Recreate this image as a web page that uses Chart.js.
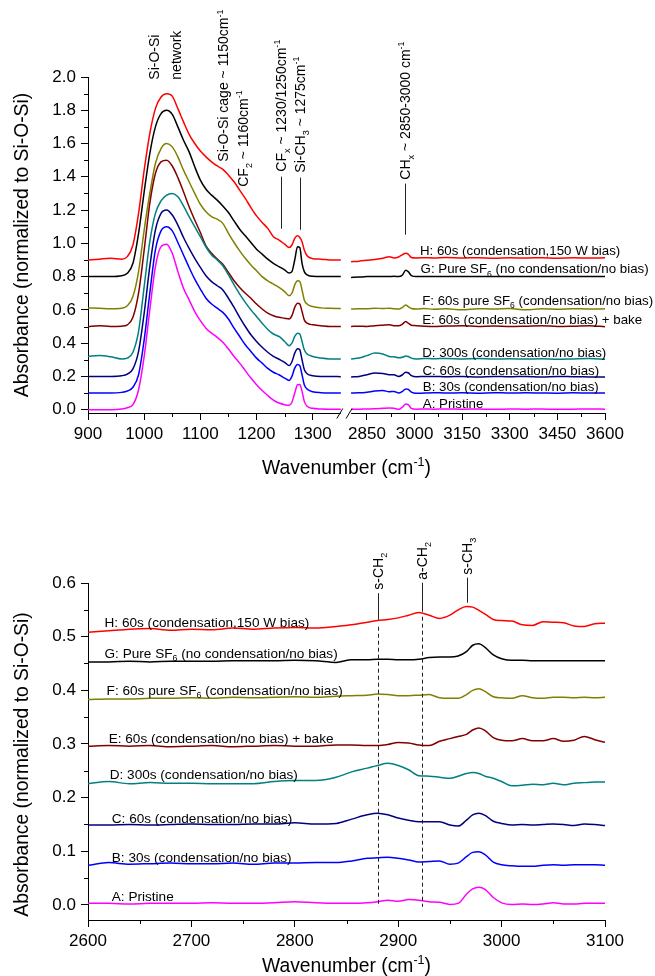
<!DOCTYPE html>
<html>
<head>
<meta charset="utf-8">
<script src="https://cdn.jsdelivr.net/npm/chart.js@4.4.1/dist/chart.umd.min.js"></script>
<style>
  html, body { margin: 0; padding: 0; background: #fff; }
  #wrap { position: relative; width: 655px; height: 976px; }
  canvas { position: absolute; left: 0; }
  #topChart { top: 0; }
  #botChart { top: 490px; }
</style>
</head>
<body>
<div id="wrap">
  <canvas id="topChart" width="655" height="490"></canvas>
  <canvas id="botChart" width="655" height="486"></canvas>
</div>
<script>
/* ── Data: top panel (broken axis 900-1350 | 2800-3600) ───────────── */
const topLeftWn  = [900, 920, 940, 960, 970, 980, 990, 1000, 1010, 1020, 1030, 1040, 1050, 1060, 1070, 1080, 1090, 1100, 1110, 1120, 1130, 1140, 1150, 1160, 1170, 1180, 1190, 1200, 1210, 1220, 1230, 1240, 1250, 1258, 1263, 1268, 1273, 1277, 1281, 1285, 1290, 1300, 1315, 1330, 1350];
const topRightWn = [2800, 2825, 2850, 2875, 2900, 2920, 2935, 2950, 2962, 2972, 2980, 2990, 3005, 3030, 3060, 3100, 3150, 3200, 3250, 3300, 3350, 3400, 3450, 3500, 3550, 3600];

const leftA = [0.0, 0.0, 0.0, 0.004, 0.012, 0.03, 0.12, 0.32, 0.6, 0.86, 0.98, 0.995, 0.94, 0.83, 0.73, 0.66, 0.59, 0.535, 0.49, 0.46, 0.435, 0.405, 0.365, 0.32, 0.28, 0.235, 0.19, 0.15, 0.115, 0.085, 0.058, 0.04, 0.03, 0.026, 0.045, 0.1, 0.15, 0.152, 0.11, 0.05, 0.02, 0.008, 0.004, 0.003, 0.003];
const leftB = [0.1, 0.1, 0.1, 0.104, 0.112, 0.135, 0.21, 0.42, 0.7, 0.96, 1.075, 1.1, 1.075, 1.005, 0.93, 0.855, 0.785, 0.725, 0.67, 0.635, 0.61, 0.585, 0.545, 0.49, 0.44, 0.39, 0.35, 0.31, 0.28, 0.248, 0.225, 0.21, 0.19, 0.176, 0.2, 0.25, 0.272, 0.265, 0.21, 0.15, 0.124, 0.108, 0.102, 0.1, 0.1];
const leftC = [0.2, 0.2, 0.2, 0.204, 0.214, 0.245, 0.35, 0.58, 0.86, 1.08, 1.18, 1.2, 1.17, 1.11, 1.035, 0.97, 0.91, 0.855, 0.805, 0.77, 0.745, 0.72, 0.67, 0.615, 0.555, 0.5, 0.45, 0.41, 0.375, 0.345, 0.32, 0.303, 0.285, 0.265, 0.288, 0.34, 0.366, 0.36, 0.3, 0.242, 0.216, 0.204, 0.2, 0.2, 0.198];
const leftD = [0.32, 0.325, 0.318, 0.305, 0.31, 0.345, 0.47, 0.74, 1.01, 1.18, 1.255, 1.29, 1.3, 1.28, 1.225, 1.16, 1.1, 1.04, 0.978, 0.93, 0.9, 0.865, 0.81, 0.75, 0.695, 0.645, 0.6, 0.56, 0.52, 0.482, 0.455, 0.44, 0.41, 0.385, 0.4, 0.44, 0.46, 0.455, 0.41, 0.36, 0.335, 0.32, 0.31, 0.305, 0.305];
const leftE = [0.5, 0.505, 0.5, 0.502, 0.51, 0.555, 0.7, 0.96, 1.24, 1.42, 1.49, 1.5, 1.465, 1.395, 1.31, 1.22, 1.14, 1.065, 0.985, 0.94, 0.905, 0.875, 0.825, 0.775, 0.735, 0.7, 0.67, 0.635, 0.605, 0.58, 0.565, 0.555, 0.55, 0.545, 0.565, 0.615, 0.64, 0.635, 0.59, 0.54, 0.52, 0.51, 0.505, 0.5, 0.5];
const leftF = [0.612, 0.61, 0.607, 0.61, 0.625, 0.68, 0.83, 1.08, 1.3, 1.48, 1.57, 1.6, 1.58, 1.52, 1.44, 1.37, 1.3, 1.235, 1.19, 1.16, 1.145, 1.12, 1.06, 1.005, 0.955, 0.91, 0.87, 0.835, 0.8, 0.775, 0.755, 0.735, 0.71, 0.685, 0.7, 0.75, 0.775, 0.77, 0.72, 0.66, 0.635, 0.62, 0.612, 0.61, 0.608];
const leftG = [0.8, 0.8, 0.8, 0.805, 0.82, 0.88, 1.06, 1.31, 1.54, 1.7, 1.78, 1.8, 1.775, 1.7, 1.62, 1.55, 1.46, 1.38, 1.325, 1.29, 1.26, 1.225, 1.185, 1.135, 1.085, 1.045, 1.005, 0.965, 0.935, 0.905, 0.88, 0.86, 0.84, 0.822, 0.83, 0.9, 0.98, 0.975, 0.88, 0.83, 0.81, 0.802, 0.8, 0.8, 0.8];
const leftH = [0.9, 0.905, 0.91, 0.905, 0.92, 0.99, 1.18, 1.44, 1.66, 1.81, 1.88, 1.9, 1.885, 1.81, 1.73, 1.655, 1.6, 1.555, 1.52, 1.49, 1.465, 1.445, 1.41, 1.37, 1.32, 1.27, 1.215, 1.165, 1.125, 1.09, 1.04, 1.02, 0.995, 0.975, 0.99, 1.03, 1.045, 1.035, 1.01, 0.96, 0.925, 0.908, 0.905, 0.9, 0.9];

const rightA = [0.003, 0.003, 0.004, 0.005, 0.008, 0.01, 0.008, 0.002, 0.016, 0.034, 0.03, 0.008, 0.003, 0.004, 0.003, 0.004, 0.003, 0.004, 0.002, 0.004, 0.003, 0.004, 0.002, 0.003, 0.004, 0.003];
const rightB = [0.1, 0.101, 0.105, 0.112, 0.115, 0.108, 0.11, 0.1, 0.11, 0.125, 0.122, 0.105, 0.098, 0.1, 0.102, 0.1, 0.101, 0.099, 0.102, 0.1, 0.101, 0.1, 0.099, 0.101, 0.1, 0.1];
const rightC = [0.197, 0.2, 0.21, 0.22, 0.218, 0.21, 0.21, 0.2, 0.21, 0.225, 0.222, 0.205, 0.198, 0.2, 0.2, 0.198, 0.2, 0.197, 0.2, 0.198, 0.2, 0.197, 0.2, 0.198, 0.197, 0.196];
const rightD = [0.305, 0.31, 0.325, 0.34, 0.335, 0.32, 0.318, 0.312, 0.315, 0.322, 0.32, 0.31, 0.305, 0.308, 0.306, 0.308, 0.305, 0.307, 0.304, 0.306, 0.304, 0.306, 0.303, 0.305, 0.307, 0.303];
const rightE = [0.5, 0.502, 0.5, 0.505, 0.508, 0.51, 0.505, 0.505, 0.515, 0.53, 0.52, 0.508, 0.505, 0.502, 0.5, 0.503, 0.505, 0.5, 0.503, 0.5, 0.502, 0.505, 0.5, 0.502, 0.505, 0.498];
const rightF = [0.605, 0.607, 0.606, 0.61, 0.608, 0.61, 0.607, 0.605, 0.615, 0.63, 0.62, 0.608, 0.605, 0.608, 0.604, 0.606, 0.6, 0.607, 0.605, 0.608, 0.6, 0.606, 0.604, 0.607, 0.605, 0.606];
const rightG = [0.795, 0.797, 0.8, 0.8, 0.8, 0.8, 0.802, 0.8, 0.81, 0.838, 0.83, 0.806, 0.8, 0.8, 0.8, 0.8, 0.8, 0.8, 0.8, 0.8, 0.8, 0.8, 0.8, 0.8, 0.8, 0.8];
const rightH = [0.89, 0.893, 0.898, 0.903, 0.91, 0.92, 0.912, 0.918, 0.932, 0.94, 0.935, 0.915, 0.912, 0.914, 0.912, 0.915, 0.912, 0.914, 0.91, 0.913, 0.912, 0.914, 0.911, 0.913, 0.912, 0.913];

const topTickWn  = [900, 1000, 1100, 1200, 1300, 2850, 3000, 3150, 3300, 3450, 3600];
const topMinorWn = [950, 1050, 1150, 1250, 2925, 3075, 3225, 3375, 3525];
const topYTicks  = [0, 0.2, 0.4, 0.6, 0.8, 1.0, 1.2, 1.4, 1.6, 1.8, 2.0];
const topMinorY  = [0.1, 0.3, 0.5, 0.7, 0.9, 1.1, 1.3, 1.5, 1.7, 1.9];

/* ── Data: bottom panel (2600-3100) ───────────────────────────────── */
const botWn = [2600, 2620, 2640, 2660, 2680, 2700, 2720, 2740, 2760, 2780, 2800, 2820, 2840, 2855, 2870, 2880, 2890, 2900, 2910, 2920, 2930, 2940, 2950, 2958, 2966, 2972, 2978, 2984, 2992, 3000, 3010, 3020, 3030, 3040, 3050, 3060, 3070, 3080, 3090, 3100];
const botA = [0.003, 0.003, 0.002, 0.003, 0.003, 0.003, 0.004, 0.003, 0.003, 0.004, 0.006, 0.004, 0.003, 0.003, 0.004, 0.006, 0.009, 0.007, 0.01, 0.009, 0.006, 0.005, 0.001, 0.003, 0.02, 0.03, 0.033, 0.029, 0.014, 0.004, 0.001, 0.002, 0.001, 0.002, 0.004, 0.002, 0.002, 0.003, 0.003, 0.003];
const botB = [0.074, 0.079, 0.076, 0.077, 0.078, 0.077, 0.077, 0.078, 0.076, 0.078, 0.078, 0.079, 0.079, 0.082, 0.087, 0.088, 0.089, 0.087, 0.084, 0.08, 0.081, 0.082, 0.076, 0.078, 0.09, 0.098, 0.099, 0.094, 0.08, 0.075, 0.073, 0.072, 0.072, 0.074, 0.075, 0.074, 0.075, 0.075, 0.075, 0.074];
const botC = [0.149, 0.149, 0.15, 0.149, 0.15, 0.151, 0.15, 0.15, 0.151, 0.151, 0.153, 0.151, 0.152, 0.16, 0.168, 0.171, 0.168, 0.162, 0.158, 0.155, 0.155, 0.155, 0.149, 0.147, 0.158, 0.168, 0.171, 0.167, 0.156, 0.152, 0.149, 0.15, 0.149, 0.15, 0.151, 0.15, 0.148, 0.151, 0.15, 0.148];
const botD = [0.226, 0.23, 0.226, 0.228, 0.227, 0.227, 0.226, 0.226, 0.226, 0.23, 0.232, 0.232, 0.238, 0.248, 0.255, 0.26, 0.264, 0.26, 0.252, 0.241, 0.24, 0.238, 0.236, 0.24, 0.245, 0.247, 0.245, 0.24, 0.236, 0.23, 0.222, 0.223, 0.225, 0.224, 0.227, 0.224, 0.227, 0.228, 0.229, 0.229];
const botE = [0.296, 0.297, 0.296, 0.297, 0.295, 0.296, 0.297, 0.295, 0.296, 0.297, 0.296, 0.296, 0.298, 0.298, 0.297, 0.297, 0.299, 0.303, 0.302, 0.298, 0.297, 0.305, 0.31, 0.314, 0.318, 0.326, 0.33, 0.325, 0.312, 0.307, 0.306, 0.31, 0.306, 0.306, 0.31, 0.305, 0.307, 0.314, 0.308, 0.303];
const botF = [0.383, 0.384, 0.384, 0.385, 0.385, 0.386, 0.385, 0.387, 0.386, 0.387, 0.388, 0.387, 0.389, 0.39, 0.391, 0.393, 0.392, 0.39, 0.39, 0.391, 0.392, 0.386, 0.385, 0.385, 0.392, 0.4, 0.403, 0.398, 0.388, 0.386, 0.385, 0.39, 0.386, 0.385, 0.387, 0.387, 0.386, 0.387, 0.386, 0.387];
const botG = [0.453, 0.453, 0.454, 0.453, 0.454, 0.454, 0.454, 0.455, 0.455, 0.455, 0.456, 0.455, 0.452, 0.457, 0.457, 0.458, 0.458, 0.457, 0.457, 0.458, 0.461, 0.462, 0.462, 0.464, 0.472, 0.484, 0.487, 0.48, 0.466, 0.459, 0.456, 0.456, 0.455, 0.455, 0.455, 0.455, 0.455, 0.455, 0.455, 0.455];
const botH = [0.508, 0.511, 0.514, 0.515, 0.512, 0.514, 0.513, 0.516, 0.514, 0.516, 0.517, 0.516, 0.519, 0.522, 0.527, 0.53, 0.532, 0.535, 0.54, 0.545, 0.54, 0.534, 0.54, 0.55, 0.556, 0.555, 0.549, 0.542, 0.532, 0.53, 0.529, 0.522, 0.521, 0.528, 0.527, 0.526, 0.52, 0.519, 0.524, 0.525];

const botXTicks = [2600, 2700, 2800, 2900, 3000, 3100];
const botMinorX = [2650, 2750, 2850, 2950, 3050];
const botYTicks = [0, 0.1, 0.2, 0.3, 0.4, 0.5, 0.6];
const botMinorY = [0.05, 0.15, 0.25, 0.35, 0.45, 0.55];

const seriesColors = ['#ff00ff', '#0000ff', '#000080', '#008080', '#800000', '#808000', '#000000', '#ff0000'];
const seriesLabels = [
  'A: Pristine',
  'B: 30s (condensation/no bias)',
  'C: 60s (condensation/no bias)',
  'D: 300s (condensation/no bias)',
  'E: 60s (condensation/no bias) + bake',
  'F: 60s pure SF_{6} (condensation/no bias)',
  'G: Pure SF_{6} (no condensation/no bias)',
  'H: 60s (condensation,150 W bias)'
];

/* ── Text helpers (sub/superscripts) ──────────────────────────────── */
const FONT = '"Liberation Sans", Arial, Helvetica, sans-serif';
Chart.defaults.font.family = FONT;
Chart.defaults.color = '#000';

function richParts(str) {
  const parts = [], re = /([_^])\{([^}]*)\}/g;
  let last = 0, m;
  while ((m = re.exec(str))) {
    if (m.index > last) parts.push({ t: str.slice(last, m.index), k: '' });
    parts.push({ t: m[2], k: m[1] });
    last = re.lastIndex;
  }
  if (last < str.length) parts.push({ t: str.slice(last), k: '' });
  return parts;
}
function drawRich(ctx, str, x, y, size, align) {
  const parts = richParts(str);
  const fontFor = k => (k ? size * 0.65 : size) + 'px ' + FONT;
  let w = 0;
  parts.forEach(p => { ctx.font = fontFor(p.k); p.w = ctx.measureText(p.t).width; w += p.w; });
  let cx = align === 'center' ? x - w / 2 : align === 'right' ? x - w : x;
  ctx.textAlign = 'left';
  ctx.textBaseline = 'alphabetic';
  ctx.fillStyle = '#000';
  parts.forEach(p => {
    ctx.font = fontFor(p.k);
    const dy = p.k === '_' ? size * 0.28 : p.k === '^' ? -size * 0.42 : 0;
    ctx.fillText(p.t, cx, y + dy);
    cx += p.w;
  });
}
function drawRotated(ctx, str, x, yBottom, size, align) {
  ctx.save();
  ctx.translate(x, yBottom);
  ctx.rotate(-Math.PI / 2);
  drawRich(ctx, str, 0, 0, size, align || 'left');
  ctx.restore();
}
function drawLine(ctx, x, y1, y2, dash) {
  ctx.save();
  ctx.strokeStyle = '#222';
  ctx.lineWidth = 1;
  ctx.setLineDash(dash || []);
  ctx.beginPath();
  ctx.moveTo(Math.round(x) + 0.5, y1);
  ctx.lineTo(Math.round(x) + 0.5, y2);
  ctx.stroke();
  ctx.restore();
}
function drawMinorTicks(ctx, area, xs, ys, xPix, yPix) {
  ctx.save();
  ctx.strokeStyle = '#000';
  ctx.lineWidth = 1;
  ctx.beginPath();
  xs.forEach(v => { const px = Math.round(xPix(v)) + 0.5; ctx.moveTo(px, area.bottom); ctx.lineTo(px, area.bottom + 4); });
  ys.forEach(v => { const py = Math.round(yPix(v)) + 0.5; ctx.moveTo(area.left, py); ctx.lineTo(area.left - 4, py); });
  ctx.stroke();
  ctx.restore();
}

/* ── Top panel: piecewise x mapping for the axis break ────────────── */
const BREAK_GAP = 18.3, RIGHT_SCALE = 0.565;
function topU(w) { return w <= 1350 ? w - 900 : 450 + BREAK_GAP + (w - 2800) * RIGHT_SCALE; }

const leftSeries  = [leftA, leftB, leftC, leftD, leftE, leftF, leftG, leftH];
const rightSeries = [rightA, rightB, rightC, rightD, rightE, rightF, rightG, rightH];
const gapU = (topU(1350) + topU(2800)) / 2;

const topDatasets = leftSeries.map((ys, i) => ({
  data: topLeftWn.map((w, j) => ({ x: topU(w), y: ys[j] }))
    .concat([{ x: gapU, y: null }])
    .concat(topRightWn.map((w, j) => ({ x: topU(w), y: rightSeries[i][j] }))),
  borderColor: seriesColors[i]
}));

// annotation anchors: wavenumber + absorbance
const topNotes = [
  { text: 'Si-O-Si', wn: 1017, y: 1.984 },
  { text: 'network', wn: 1056, y: 1.984 },
  { text: 'Si-O-Si cage ~ 1150cm^{-1}', wn: 1141, y: 1.491 },
  { text: 'CF_{2} ~ 1160cm^{-1}', wn: 1176, y: 1.34 },
  { text: 'CF_{x} ~ 1230/1250cm^{-1}', wn: 1243, y: 1.431, line: [1.401, 1.088] },
  { text: 'Si-CH_{3} ~ 1275cm^{-1}', wn: 1278, y: 1.425, line: [1.395, 1.082] },
  { text: 'CH_{x} ~ 2850-3000 cm^{-1}', wn: 2971, y: 1.383, line: [1.359, 1.052] }
];
const topLabelPos = [
  { wn: 3026, y: 0.036 }, { wn: 3026, y: 0.14 }, { wn: 3025, y: 0.236 }, { wn: 3024, y: 0.344 },
  { wn: 3024, y: 0.545 }, { wn: 3024, y: 0.661 }, { wn: 3019, y: 0.848 }, { wn: 3017, y: 0.958 }
];

const topDecor = {
  id: 'topDecor',
  afterDraw(chart) {
    const { ctx, chartArea: a, scales: { x, y } } = chart;
    const px = w => x.getPixelForValue(topU(w));
    const py = v => y.getPixelForValue(v);
    drawMinorTicks(ctx, a, topMinorWn, topMinorY, px, py);

    // broken x axis
    const by = Math.round(a.bottom) + 0.5;
    const x1 = x.getPixelForValue(topU(1350)), x2 = x.getPixelForValue(topU(2800));
    ctx.save();
    ctx.strokeStyle = '#000';
    ctx.lineWidth = 1;
    ctx.beginPath();
    ctx.moveTo(a.left, by); ctx.lineTo(x1, by);
    ctx.moveTo(x2, by); ctx.lineTo(a.right, by);
    [x1 - 1, x2 - 2].forEach(xc => { ctx.moveTo(xc - 3, by + 5); ctx.lineTo(xc + 3, by - 5); });
    ctx.stroke();
    ctx.restore();

    topNotes.forEach(n => {
      drawRotated(ctx, n.text, px(n.wn) + 5, py(n.y), 14);
      if (n.line) drawLine(ctx, px(n.wn), py(n.line[0]), py(n.line[1]));
    });
    seriesLabels.forEach((t, i) => {
      drawRich(ctx, t, px(topLabelPos[i].wn), py(topLabelPos[i].y) + 4.8, 13.3, 'left');
    });

    drawRotated(ctx, 'Absorbance (normalized to Si-O-Si)', 28, 245, 19.3, 'center');
    drawRich(ctx, 'Wavenumber (cm^{-1})', (a.left + a.right) / 2, 474, 19.3, 'center');
  }
};

const axisCommon = {
  grid: { display: true, drawOnChartArea: false, drawTicks: true, tickLength: 7, tickColor: '#000', tickWidth: 1 }
};

new Chart(document.getElementById('topChart'), {
  type: 'line',
  data: { datasets: topDatasets },
  options: {
    responsive: false,
    animation: false,
    devicePixelRatio: 1,
    layout: { padding: { left: 0, right: 50, top: 77, bottom: 0 } },
    elements: {
      line: { borderWidth: 1.5, cubicInterpolationMode: 'monotone', fill: false },
      point: { radius: 0 }
    },
    spanGaps: false,
    plugins: { legend: { display: false }, tooltip: { enabled: false } },
    scales: {
      x: {
        type: 'linear', min: 0, max: topU(3600),
        afterBuildTicks: s => { s.ticks = topTickWn.map(w => ({ value: topU(w) })); },
        ticks: { callback: (v, i) => String(topTickWn[i]), font: { size: 17 }, color: '#000', padding: 4, maxRotation: 0, autoSkip: false },
        grid: axisCommon.grid,
        border: { display: false },
        afterFit: s => { s.height = 77; }
      },
      y: {
        type: 'linear', min: -0.02, max: 2.0,
        afterBuildTicks: s => { s.ticks = topYTicks.map(v => ({ value: v })); },
        ticks: { callback: v => v.toFixed(1), font: { size: 17 }, color: '#000', padding: 5 },
        grid: axisCommon.grid,
        border: { display: true, color: '#000', width: 1 },
        afterFit: s => { s.width = 88; }
      }
    }
  },
  plugins: [topDecor]
});

/* ── Bottom panel ─────────────────────────────────────────────────── */
const botSeries = [botA, botB, botC, botD, botE, botF, botG, botH];
const botDatasets = botSeries.map((ys, i) => ({
  data: botWn.map((w, j) => ({ x: w, y: ys[j] })),
  borderColor: seriesColors[i]
}));

const botNotes = [
  { text: 's-CH_{2}', wn: 2880.5, y: 0.5875, solid: [0.581, 0.5315], dashed: [0.5185, -0.0036] },
  { text: 'a-CH_{2}', wn: 2922.7, y: 0.606, solid: [0.6006, 0.5465], dashed: [0.5372, -0.0036] },
  { text: 's-CH_{3}', wn: 2967, y: 0.6155, solid: [0.6099, 0.5633] }
];
const botLabelPos = [
  { wn: 2623, y: 0.0169 }, { wn: 2623, y: 0.0882 }, { wn: 2623, y: 0.162 }, { wn: 2621, y: 0.244 },
  { wn: 2620, y: 0.31 }, { wn: 2618, y: 0.401 }, { wn: 2616, y: 0.47 }, { wn: 2616, y: 0.527 }
];

const botDecor = {
  id: 'botDecor',
  afterDraw(chart) {
    const { ctx, chartArea: a, scales: { x, y } } = chart;
    const px = w => x.getPixelForValue(w);
    const py = v => y.getPixelForValue(v);
    drawMinorTicks(ctx, a, botMinorX, botMinorY, px, py);

    botNotes.forEach(n => {
      drawRotated(ctx, n.text, px(n.wn) + 5, py(n.y), 14);
      drawLine(ctx, px(n.wn), py(n.solid[0]), py(n.solid[1]));
      if (n.dashed) drawLine(ctx, px(n.wn), py(n.dashed[0]), py(n.dashed[1]), [4, 3]);
    });
    seriesLabels.forEach((t, i) => {
      drawRich(ctx, t, px(botLabelPos[i].wn), py(botLabelPos[i].y) + 4.8, 13.6, 'left');
    });

    drawRotated(ctx, 'Absorbance (normalized to Si-O-Si)', 28, 274.5, 19.3, 'center');
    drawRich(ctx, 'Wavenumber (cm^{-1})', (a.left + a.right) / 2, 482, 19.3, 'center');
  }
};

new Chart(document.getElementById('botChart'), {
  type: 'line',
  data: { datasets: botDatasets },
  options: {
    responsive: false,
    animation: false,
    devicePixelRatio: 1,
    layout: { padding: { left: 0, right: 50, top: 93, bottom: 0 } },
    elements: {
      line: { borderWidth: 1.5, cubicInterpolationMode: 'monotone', fill: false },
      point: { radius: 0 }
    },
    plugins: { legend: { display: false }, tooltip: { enabled: false } },
    scales: {
      x: {
        type: 'linear', min: 2600, max: 3100,
        afterBuildTicks: s => { s.ticks = botXTicks.map(v => ({ value: v })); },
        ticks: { callback: v => String(v), font: { size: 17 }, color: '#000', padding: 4, maxRotation: 0, autoSkip: false },
        grid: axisCommon.grid,
        border: { display: true, color: '#000', width: 1 },
        afterFit: s => { s.height = 56; }
      },
      y: {
        type: 'linear', min: -0.028, max: 0.6,
        afterBuildTicks: s => { s.ticks = botYTicks.map(v => ({ value: v })); },
        ticks: { callback: v => v.toFixed(1), font: { size: 17 }, color: '#000', padding: 5 },
        grid: axisCommon.grid,
        border: { display: true, color: '#000', width: 1 },
        afterFit: s => { s.width = 88; }
      }
    }
  },
  plugins: [botDecor]
});
</script>
</body>
</html>
